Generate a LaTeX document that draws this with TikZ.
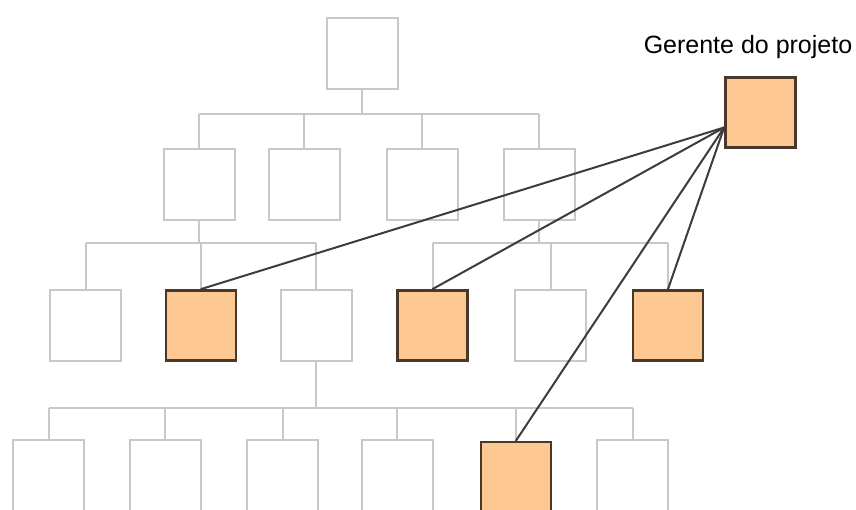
\documentclass[tikz,border=0pt]{standalone}
\usepackage{fontspec}
\setmainfont{Liberation Sans}
\definecolor{boxgray}{HTML}{C8C8C8}
\definecolor{orgfill}{HTML}{FEC892}
\definecolor{orgline}{HTML}{4A3828}
\definecolor{conn}{HTML}{3C3C3C}
\begin{document}
\begin{tikzpicture}[x=1pt,y=-1pt,
  plainbox/.style={draw=boxgray,line width=2pt,fill=white,minimum width=71pt,minimum height=71pt,inner sep=0pt},
  orgbox/.style={draw=orgline,line width=2.8pt,fill=orgfill,minimum width=70pt,minimum height=70pt,inner sep=0pt},
  tree/.style={draw=boxgray,line width=2pt},
  link/.style={draw=conn,line width=2pt,line cap=round}]
\useasboundingbox (0,0) rectangle (856,509);
\clip (0,0) rectangle (856,509);
\fill[white] (0,0) rectangle (856,509);
% tree lines
\draw[tree] (362,89) -- (362,114);
\draw[tree] (199,114) -- (539,114);
\foreach \x in {199,304,422,539} \draw[tree] (\x,114) -- (\x,148);
\draw[tree] (199,220) -- (199,243);
\draw[tree] (85.5,243) -- (316,243);
\foreach \x in {85.5,201,316} \draw[tree] (\x,243) -- (\x,290);
\draw[tree] (539,220) -- (539,243);
\draw[tree] (432.5,243) -- (668,243);
\foreach \x in {432.5,550.5,668} \draw[tree] (\x,243) -- (\x,290);
\draw[tree] (316,361) -- (316,408);
\draw[tree] (48.5,408) -- (632.5,408);
\foreach \x in {48.5,165,282.5,397,516,632.5} \draw[tree] (\x,408) -- (\x,440);
% boxes
\node[plainbox] (top) at (362,53.5) {};
\node[plainbox] (b21) at (199,184) {};
\node[plainbox] (b22) at (304,184) {};
\node[plainbox] (b23) at (422,184) {};
\node[plainbox] (b24) at (539,184) {};
\node[plainbox] (b31) at (85.5,325.5) {};
\node[orgbox] (b32) at (201,325.5) {};
\node[plainbox] (b33) at (316,325.5) {};
\node[orgbox] (b34) at (432.5,325.5) {};
\node[plainbox] (b35) at (550.5,325.5) {};
\node[orgbox] (b36) at (668,325.5) {};
\node[plainbox] (b41) at (48.5,475.5) {};
\node[plainbox] (b42) at (165,475.5) {};
\node[plainbox] (b43) at (282.5,475.5) {};
\node[plainbox] (b44) at (397,475.5) {};
\node[orgbox] (b45) at (516,477) {};
\node[plainbox] (b46) at (632.5,475.5) {};
\node[orgbox] (pm) at (760.5,112.5) {};
\node[anchor=base,font=\fontsize{25}{30}\selectfont,inner sep=0pt] (pmlabel) at (748,53) {Gerente do projeto};
\coordinate (hub) at ([yshift=-15pt]pm.west);
% connectors
\draw[link] (hub) -- (b32.north);
\draw[link] (hub) -- (b34.north);
\draw[link] (hub) -- (b36.north);
\draw[link] (hub) -- (b45.north);
\end{tikzpicture}
\end{document}
